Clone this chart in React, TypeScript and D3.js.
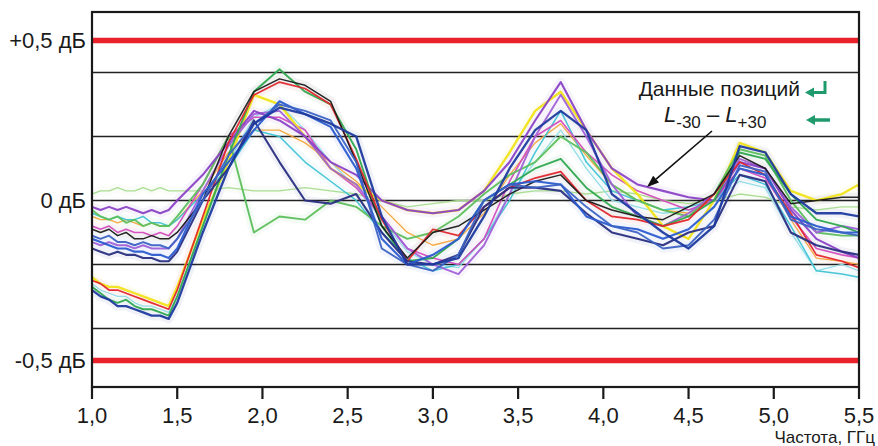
import React from 'react';
import * as d3 from 'd3';

// Frequency sample points (GHz)
const FREQ = [1.0, 1.05, 1.1, 1.15, 1.2, 1.25, 1.3, 1.35, 1.4, 1.45, 1.5, 1.65, 1.8, 1.95, 2.1, 2.25, 2.4, 2.55, 2.7, 2.85, 3.0, 3.15, 3.3, 3.45, 3.6, 3.75, 3.9, 4.05, 4.2, 4.35, 4.5, 4.65, 4.8, 4.95, 5.1, 5.25, 5.4, 5.5];

// Deviation values (dB) for each measured position
const LIGHT_GREEN = [0.02, 0.03, 0.03, 0.04, 0.03, 0.03, 0.04, 0.03, 0.04, 0.03, 0.03, 0.03, 0.04, 0.03, 0.03, 0.04, 0.03, 0.02, 0.0, -0.02, -0.01, 0.0, 0.0, 0.02, 0.03, 0.03, 0.02, 0.03, 0.02, 0.0, -0.01, 0.0, 0.02, 0.01, -0.02, -0.03, -0.02, -0.02];
const LIGHT_CYAN = [-0.26, -0.28, -0.29, -0.3, -0.3, -0.32, -0.33, -0.33, -0.34, -0.35, -0.3, -0.08, 0.12, 0.26, 0.3, 0.22, 0.12, 0.04, -0.06, -0.16, -0.2, -0.21, -0.12, 0.02, 0.12, 0.22, 0.1, 0.0, -0.02, -0.04, -0.03, 0.0, 0.06, 0.04, -0.1, -0.22, -0.2, -0.22];
const ORANGE = [-0.05, -0.06, -0.06, -0.07, -0.06, -0.07, -0.08, -0.07, -0.08, -0.08, -0.06, 0.03, 0.15, 0.22, 0.22, 0.18, 0.12, 0.06, -0.02, -0.1, -0.14, -0.12, -0.04, 0.08, 0.18, 0.24, 0.14, 0.05, 0.0, -0.03, -0.04, 0.0, 0.1, 0.08, -0.06, -0.18, -0.19, -0.2];
const CYAN = [-0.04, -0.05, -0.06, -0.05, -0.06, -0.06, -0.05, -0.07, -0.07, -0.08, -0.06, 0.02, 0.1, 0.22, 0.2, 0.12, 0.06, 0.0, -0.1, -0.18, -0.22, -0.2, -0.12, 0.0, 0.15, 0.28, 0.12, 0.03, 0.0, -0.03, -0.02, 0.0, 0.08, 0.05, -0.08, -0.22, -0.23, -0.24];
const MAGENTA = [-0.08, -0.09, -0.08, -0.1, -0.09, -0.1, -0.1, -0.11, -0.1, -0.11, -0.08, 0.05, 0.2, 0.26, 0.26, 0.22, 0.1, 0.04, -0.05, -0.15, -0.18, -0.2, -0.12, 0.06, 0.2, 0.25, 0.15, 0.08, 0.03, 0.0, -0.03, 0.0, 0.1, 0.07, -0.05, -0.15, -0.17, -0.18];
const YELLOW = [-0.24, -0.26, -0.27, -0.27, -0.28, -0.29, -0.3, -0.31, -0.32, -0.33, -0.27, -0.06, 0.12, 0.33, 0.3, 0.2, 0.1, 0.05, 0.0, -0.03, -0.04, -0.03, 0.03, 0.15, 0.28, 0.34, 0.22, 0.1, 0.02, -0.08, -0.12, 0.0, 0.18, 0.15, 0.03, 0.0, 0.02, 0.05];
const GREEN_DIP = [-0.03, -0.05, -0.06, -0.05, -0.07, -0.06, -0.08, -0.07, -0.08, -0.08, -0.05, 0.05, 0.2, -0.1, -0.05, -0.06, 0.0, -0.02, -0.08, -0.12, -0.1, -0.05, 0.02, 0.08, 0.12, 0.2, 0.15, 0.05, 0.0, -0.03, -0.05, 0.02, 0.16, 0.14, 0.0, -0.1, -0.11, -0.11];
const VIOLET = [-0.13, -0.14, -0.13, -0.14, -0.14, -0.15, -0.14, -0.15, -0.15, -0.15, -0.12, 0.03, 0.17, 0.27, 0.28, 0.2, 0.1, 0.05, -0.05, -0.15, -0.2, -0.23, -0.14, 0.02, 0.2, 0.33, 0.2, 0.05, -0.05, -0.08, -0.04, 0.02, 0.13, 0.1, -0.02, -0.1, -0.08, -0.09];
const PURPLE = [-0.02, -0.03, -0.02, -0.03, -0.02, -0.03, -0.04, -0.03, -0.04, -0.03, 0.0, 0.08, 0.18, 0.28, 0.25, 0.2, 0.12, 0.08, 0.0, -0.03, -0.04, -0.03, 0.03, 0.12, 0.25, 0.37, 0.22, 0.1, 0.05, 0.03, 0.01, 0.0, 0.12, 0.1, -0.03, -0.12, -0.16, -0.18];
const GREEN = [-0.27, -0.29, -0.31, -0.32, -0.31, -0.33, -0.34, -0.34, -0.35, -0.36, -0.3, -0.08, 0.14, 0.34, 0.41, 0.34, 0.3, 0.16, -0.08, -0.19, -0.18, -0.12, 0.0, 0.05, 0.1, 0.13, 0.04, -0.02, -0.05, -0.08, -0.05, 0.0, 0.15, 0.13, 0.02, -0.06, -0.08, -0.1];
const RED = [-0.25, -0.26, -0.28, -0.28, -0.29, -0.3, -0.31, -0.32, -0.33, -0.34, -0.28, -0.05, 0.18, 0.33, 0.37, 0.35, 0.3, 0.13, -0.06, -0.19, -0.09, -0.11, -0.02, 0.04, 0.07, 0.09, 0.0, -0.05, -0.06, -0.08, -0.06, 0.02, 0.12, 0.08, -0.04, -0.17, -0.19, -0.21];
const BLACK = [-0.09, -0.1, -0.09, -0.11, -0.1, -0.12, -0.12, -0.11, -0.12, -0.12, -0.1, 0.0, 0.2, 0.34, 0.38, 0.36, 0.31, 0.12, -0.08, -0.18, -0.1, -0.08, -0.03, 0.02, 0.06, 0.08, 0.0, -0.03, -0.05, -0.06, -0.02, 0.02, 0.14, 0.1, -0.01, 0.0, 0.01, 0.01];
const NAVY = [-0.15, -0.16, -0.17, -0.16, -0.17, -0.17, -0.18, -0.18, -0.19, -0.19, -0.16, 0.0, 0.1, 0.25, 0.12, 0.0, -0.01, 0.02, -0.1, -0.19, -0.2, -0.17, -0.02, 0.04, 0.04, 0.03, -0.04, -0.1, -0.12, -0.14, -0.1, -0.08, 0.08, 0.06, -0.1, -0.14, -0.16, -0.17];
const BLUE_MID = [-0.12, -0.13, -0.14, -0.15, -0.15, -0.16, -0.16, -0.17, -0.17, -0.18, -0.15, 0.02, 0.12, 0.22, 0.31, 0.27, 0.23, 0.1, -0.12, -0.2, -0.17, -0.12, 0.0, 0.05, 0.06, 0.05, -0.05, -0.08, -0.09, -0.12, -0.09, -0.02, 0.1, 0.08, -0.05, -0.08, -0.1, -0.1];
const BLUE_LOW = [-0.11, -0.12, -0.11, -0.13, -0.13, -0.14, -0.13, -0.14, -0.14, -0.15, -0.12, 0.0, 0.14, 0.24, 0.3, 0.28, 0.25, 0.12, -0.15, -0.2, -0.22, -0.17, 0.0, 0.05, 0.04, 0.05, -0.02, -0.08, -0.1, -0.15, -0.14, -0.06, 0.11, 0.09, -0.06, -0.09, -0.1, -0.11];
const BLUE_DARK = [-0.28, -0.3, -0.31, -0.33, -0.33, -0.34, -0.35, -0.36, -0.36, -0.37, -0.32, -0.1, 0.1, 0.24, 0.29, 0.27, 0.24, 0.2, -0.05, -0.2, -0.2, -0.18, -0.05, 0.1, 0.22, 0.28, 0.22, 0.02, -0.04, -0.1, -0.15, -0.08, 0.17, 0.15, 0.02, -0.04, -0.04, -0.05];

const SERIES = [LIGHT_GREEN, LIGHT_CYAN, ORANGE, CYAN, MAGENTA, YELLOW, GREEN_DIP, VIOLET, PURPLE, GREEN, RED, BLACK, NAVY, BLUE_MID, BLUE_LOW, BLUE_DARK];
const SERIES_COLORS = ['#a6dc8e', '#8fdbe6', '#f3a43c', '#3fc3d3', '#d24cbc', '#f1e41a', '#5cbf5c', '#a060d8', '#8a42c6', '#2fa84f', '#e3242b', '#1a1a1a', '#2a2f82', '#2b5bd0', '#3b62c4', '#1d3a9e'];
const SERIES_WIDTHS = [1.4, 1.3, 1.3, 1.5, 1.6, 2.4, 1.9, 1.9, 2.1, 1.9, 1.7, 1.5, 2.1, 2.1, 1.9, 2.3];

const X_TICKS = [1.0, 1.5, 2.0, 2.5, 3.0, 3.5, 4.0, 4.5, 5.0, 5.5];
const GRID_VALUES = [0.4, 0.2, 0, -0.2, -0.4];
const LIMIT_VALUES = [0.5, -0.5];
const Y_LABEL_VALUES = [0.5, 0, -0.5];
const Y_LABEL_TEXTS = ['+0,5 дБ', '0 дБ', '-0,5 дБ'];
const X_TITLE = 'Частота, ГГц';
const LEGEND_LINE1 = 'Данные позиций';

export default function App() {
  const W = 878;
  const H = 446;
  const L = 92, R = 859, T = 12, B = 387;
  const x = d3.scaleLinear().domain([1, 5.5]).range([L, R]);
  const y = d3.scaleLinear().domain([-0.583, 0.589]).range([B, T]);
  const line = d3
    .line<number>()
    .x((_, i) => x(FREQ[i]))
    .y((d) => y(d))
    .curve(d3.curveLinear);
  const fmt = (v: number) => d3.format('.1f')(v).replace('.', ',');
  const font = "'Liberation Sans', Arial, Helvetica, sans-serif";
  const teal = '#1f9a6c';

  // pointer arrow geometry
  const ax1 = 712, ay1 = 131, ax2 = 647, ay2 = 187;
  const ang = Math.atan2(ay2 - ay1, ax2 - ax1);
  const ah = 12, aw = 4.5;
  const bx = ax2 - ah * Math.cos(ang), by = ay2 - ah * Math.sin(ang);
  const head = `${ax2},${ay2} ${bx + aw * Math.sin(ang)},${by - aw * Math.cos(ang)} ${bx - aw * Math.sin(ang)},${by + aw * Math.cos(ang)}`;

  return (
    <svg
      width={W}
      height={H}
      style={{ position: 'absolute', left: 0, top: 0, display: 'block' }}
      fontFamily={font}
    >
      <rect x={0} y={0} width={W} height={H} fill="#ffffff" />
      <defs>
        <clipPath id="plot">
          <rect x={L} y={T} width={R - L} height={B - T} />
        </clipPath>
      </defs>

      {/* halos to mimic the printed scatter */}
      <g clipPath="url(#plot)" opacity={0.06}>
        {SERIES.map((s, i) => (
          <path key={'h' + i} d={line(s) || ''} fill="none" stroke={SERIES_COLORS[i]} strokeWidth={9} strokeLinejoin="round" />
        ))}
      </g>

      {/* grid lines */}
      {GRID_VALUES.map((v) => (
        <line key={'g' + v} x1={L} x2={R} y1={y(v)} y2={y(v)} stroke="#222" strokeWidth={1.6} />
      ))}

      {/* limit lines */}
      {LIMIT_VALUES.map((v) => (
        <line key={'l' + v} x1={L} x2={R} y1={y(v)} y2={y(v)} stroke="#e8212a" strokeWidth={5.5} />
      ))}

      {/* data lines */}
      <g clipPath="url(#plot)">
        {SERIES.map((s, i) => (
          <path
            key={'s' + i}
            d={line(s) || ''}
            fill="none"
            stroke={SERIES_COLORS[i]}
            strokeWidth={SERIES_WIDTHS[i]}
            strokeLinejoin="round"
            opacity={0.95}
          />
        ))}
      </g>

      {/* frame */}
      <rect x={L} y={T} width={R - L} height={B - T} fill="none" stroke="#1a1a1a" strokeWidth={2.2} />

      {/* x ticks */}
      {X_TICKS.map((t) => (
        <g key={'t' + t}>
          <line x1={x(t)} x2={x(t)} y1={B} y2={B + 12} stroke="#1a1a1a" strokeWidth={2.2} />
          <text x={x(t)} y={423} textAnchor="middle" fontSize={22} fill="#1a1a1a">
            {fmt(t)}
          </text>
        </g>
      ))}
      <text x={875} y={443} textAnchor="end" fontSize={17} fill="#1a1a1a">
        {X_TITLE}
      </text>

      {/* y labels */}
      {Y_LABEL_VALUES.map((v, i) => (
        <text key={'y' + v} x={86} y={y(v) + 8} textAnchor="end" fontSize={22} fill="#1a1a1a">
          {Y_LABEL_TEXTS[i]}
        </text>
      ))}

      {/* legend / annotation */}
      <text x={800} y={96} textAnchor="end" fontSize={21} fill="#1a1a1a">
        {LEGEND_LINE1}
      </text>
      <text x={664} y={122} fontSize={22} fill="#1a1a1a">
        <tspan fontStyle="italic">L</tspan>
        <tspan fontSize={17} dy={6}>-30</tspan>
        <tspan dy={-6}> – </tspan>
        <tspan fontStyle="italic">L</tspan>
        <tspan fontSize={17} dy={6}>+30</tspan>
      </text>
      {/* green arrows */}
      <path d="M825,81 V92.5 H813" fill="none" stroke={teal} strokeWidth={3} />
      <polygon points="805,92.5 814,87.5 814,97.5" fill={teal} />
      <line x1={830} y1={120} x2={814} y2={120} stroke={teal} strokeWidth={3.5} />
      <polygon points="806,120 815,115 815,125" fill={teal} />

      {/* black pointer */}
      <line x1={ax1} y1={ay1} x2={bx} y2={by} stroke="#111" strokeWidth={1.6} />
      <polygon points={head} fill="#111" />
    </svg>
  );
}
